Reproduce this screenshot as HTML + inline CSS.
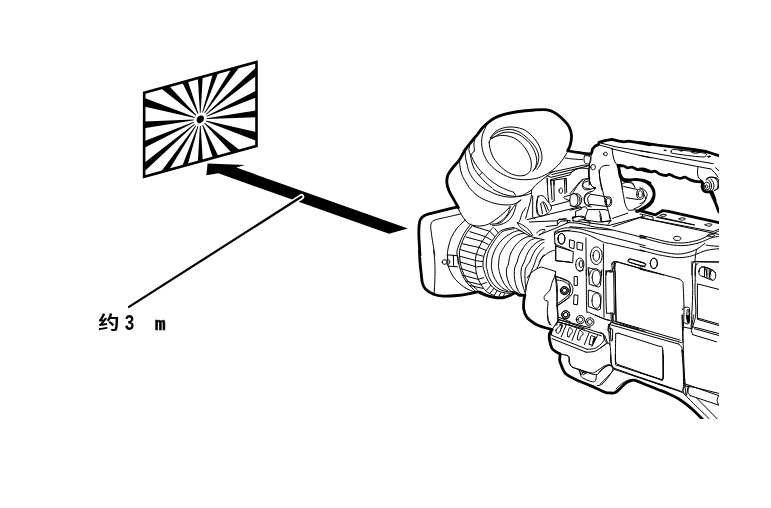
<!DOCTYPE html>
<html lang="zh-CN">
<head>
<meta charset="utf-8">
<title>约3 m</title>
<style>
html,body{margin:0;padding:0;background:#fff;}
body{width:771px;height:508px;overflow:hidden;position:relative;font-family:"Liberation Sans","Noto Sans CJK SC",sans-serif;}
svg{position:absolute;left:0;top:0;display:block;will-change:transform;}
</style>
</head>
<body>
<svg width="771" height="508" viewBox="0 0 771 508">
<defs>
<clipPath id="camclip"><rect x="400" y="90" width="319" height="329"/></clipPath>
<clipPath id="chartclip"><path d="M144.2,92.75 L256.5,61.9 L256.5,146 L144.1,176.7 Z"/></clipPath>
</defs>
<rect x="0" y="0" width="771" height="508" fill="#fff"/>
<!-- star chart -->
<g clip-path="url(#chartclip)">
<path d="M200.30,119.30 L188.68,-77.18 L211.92,-83.55 Z M200.30,119.30 L257.67,-88.01 L279.51,-86.05 Z M200.30,119.30 L319.74,-73.84 L337.54,-63.79 Z M200.30,119.30 L367.40,-36.38 L379.02,-19.44 Z M200.30,119.30 L394.91,19.86 L398.95,41.64 Z M200.30,119.30 L398.95,88.10 L394.91,112.09 Z M200.30,119.30 L379.02,160.10 L367.40,183.41 Z M200.30,119.30 L337.54,227.18 L319.74,246.99 Z M200.30,119.30 L279.51,281.25 L257.67,295.17 Z M200.30,119.30 L211.92,315.78 L188.68,322.15 Z M200.30,119.30 L142.93,326.61 L121.09,324.65 Z M200.30,119.30 L80.86,312.44 L63.06,302.39 Z M200.30,119.30 L33.20,274.98 L21.58,258.04 Z M200.30,119.30 L5.69,218.74 L1.65,196.96 Z M200.30,119.30 L1.65,150.50 L5.69,126.51 Z M200.30,119.30 L21.58,78.50 L33.20,55.19 Z M200.30,119.30 L63.06,11.42 L80.86,-8.39 Z M200.30,119.30 L121.09,-42.65 L142.93,-56.57 Z" fill="#000"/>
<ellipse cx="0" cy="0" rx="6.6" ry="6.6" fill="#fff" transform="matrix(1,-0.274,0,1,200.3,119.3)"/>
<ellipse cx="0" cy="0" rx="3.7" ry="3.7" fill="#000" transform="matrix(1,-0.274,0,1,200.3,119.3)"/>
</g>
<path d="M144.2,92.75 L256.5,61.9 L256.5,146 L144.1,176.7 Z" fill="none" stroke="#000" stroke-width="2.6" stroke-linejoin="miter"/>
<!-- arrow -->
<path d="M207.6,163.4 L245,165 L236.3,167.6 L407.9,228.6 L389,233.8 L218.3,173.3 L206.3,175.2 Z" fill="#000"/>
<!-- leader -->
<path d="M301.4,196.8 L129.0,306.9" stroke="#fff" stroke-width="5.6" stroke-linecap="round" fill="none"/>
<path d="M301.4,196.8 L129.0,306.9" stroke="#000" stroke-width="2.2" stroke-linecap="round" fill="none"/>
<!-- label -->
<text transform="translate(98.2,329.0) scale(1.15,1)" font-family="'Liberation Sans','Noto Sans CJK SC',sans-serif" font-weight="bold" font-size="18.5" fill="#000">约</text>
<text transform="translate(124.6,329.6) scale(0.74,1)" font-family="'Liberation Mono','Noto Sans CJK SC',monospace" font-weight="bold" font-size="22.4" fill="#000">3</text>
<text transform="translate(154.9,329.6) scale(0.98,1)" font-family="'Liberation Mono','Noto Sans CJK SC',monospace" font-weight="bold" font-size="18" fill="#000" stroke="#000" stroke-width="0.55">m</text>
<!-- camera -->
<g clip-path="url(#camclip)">
<g id="camera">
<path fill="#888" stroke="none" stroke-linecap="round" stroke-linejoin="round" d="M456.9,256.6 L459.4,256.8 L459.6,264.0 L457.3,263.8Z"/>
<path fill="none" stroke="#000" stroke-width="1.0" stroke-linecap="round" stroke-linejoin="round" d="M486.9,124.6 C486.1,126.6 482.9,132.3 482.1,136.4 C481.4,140.5 481.5,145.1 482.3,149.2 C483.2,153.3 484.8,157.4 487.2,161.0 C489.7,164.6 493.1,168.1 497.1,170.9 C501.0,173.7 506.3,176.3 510.9,177.8 C515.5,179.2 520.1,179.7 524.6,179.7 C529.2,179.7 534.2,179.1 538.4,177.8 C542.7,176.4 546.6,174.3 550.2,171.9 C553.8,169.4 557.3,166.2 560.1,163.0 C562.9,159.8 565.8,154.5 567.0,152.8 M490.2,137.8 C491.3,136.6 494.0,132.3 497.1,130.5 C500.2,128.7 504.6,127.2 508.9,127.0 C513.2,126.7 518.7,127.6 522.7,129.1 C526.6,130.7 529.7,133.6 532.5,136.4 C535.3,139.3 537.8,142.8 539.4,146.3 C541.0,149.7 541.9,154.0 542.0,157.1 C542.1,160.2 540.9,162.9 540.0,165.0 C539.1,167.0 537.4,168.6 536.9,169.3 M491.2,138.8 C493.1,137.8 499.1,133.6 503.0,132.7 C506.9,131.7 511.2,132.1 514.8,133.1 C518.4,134.0 521.7,136.0 524.6,138.4 C527.6,140.7 530.6,144.0 532.5,147.2 C534.5,150.5 535.9,155.0 536.5,158.1 C537.0,161.2 536.5,163.7 535.9,165.9 C535.3,168.1 533.4,170.4 532.9,171.3 M489.2,142.3 C489.4,139.4 490.9,138.5 493.1,137.4 C495.4,136.3 499.4,135.3 503.0,135.4 C506.6,135.6 511.2,136.4 514.8,138.4 C518.4,140.4 522.0,143.8 524.6,147.2 C527.3,150.7 529.5,155.4 530.6,159.1 C531.6,162.7 531.6,166.3 530.9,168.9 C530.3,171.5 528.6,173.3 526.6,174.4 C524.6,175.6 521.7,176.0 518.7,175.8 C515.8,175.5 512.2,174.6 508.9,172.8 C505.6,171.0 501.8,167.9 499.1,165.0 C496.3,162.0 493.8,158.9 492.2,155.1 C490.5,151.3 489.0,145.3 489.2,142.3Z M490.5,138.5 C491.1,137.8 492.4,135.7 494.0,134.5 C495.6,133.3 497.4,132.0 500.0,131.2 C502.6,130.3 506.2,129.3 509.4,129.4 C512.5,129.5 515.8,130.2 518.9,131.8 C522.0,133.4 525.5,136.3 528.3,138.9 C531.0,141.5 533.7,144.4 535.4,147.2 C537.1,149.9 538.3,152.8 538.7,155.4 C539.1,158.0 538.5,160.3 538.0,162.5 C537.5,164.7 536.2,167.0 535.4,168.4 C534.6,169.8 533.5,170.4 533.1,170.8 M474.8,139.1 C474.7,139.9 474.1,141.8 474.0,143.8 C473.9,145.8 474.3,149.7 474.4,150.9 M469.7,145.0 C469.6,145.8 468.8,148.4 468.9,150.1 C469.0,151.8 470.0,153.2 470.5,155.2 C471.0,157.2 471.0,159.6 471.7,161.9 C472.4,164.2 473.2,167.0 474.5,169.3 C475.8,171.6 477.3,173.3 479.2,175.6 C481.1,177.9 483.8,180.8 486.0,182.9 C488.2,185.0 491.2,187.2 492.2,188.1 M493.3,189.6 C495.0,190.4 500.2,193.2 503.7,194.3 C507.2,195.4 510.6,196.2 514.1,196.4 C517.6,196.6 521.8,195.9 524.6,195.4 C527.4,194.9 529.8,193.7 530.8,193.3 M470.9,154.8 C471.4,155.9 472.6,159.0 473.7,161.1 C474.8,163.2 476.2,165.3 477.6,167.2 C479.0,169.1 481.1,171.5 481.8,172.4 M482.3,172.4 C483.4,173.5 486.4,176.9 489.1,179.2 C491.8,181.5 495.4,184.2 498.5,186.0 C501.6,187.8 505.4,189.2 507.9,190.2 C510.4,191.2 512.6,191.9 513.6,192.2 M465.2,150.0 C465.3,151.4 465.2,156.0 465.6,158.5 C466.0,161.0 466.8,162.8 467.4,165.1 C468.0,167.4 467.9,169.6 469.3,172.4 C470.7,175.2 473.0,179.0 475.6,181.8 C478.2,184.6 483.3,188.0 484.9,189.2 M459.5,160.2 C459.6,161.5 459.7,165.1 460.2,167.8 C460.7,170.5 461.3,173.6 462.7,176.6 C464.1,179.6 467.4,184.4 468.3,186.0 M590.7,167.2 C590.7,166.5 591.0,165.5 591.4,165.1 C591.8,164.6 592.5,164.5 593.1,164.6 C593.7,164.7 594.6,165.0 595.0,165.4 C595.4,165.9 595.5,166.6 595.4,167.2 C595.4,167.8 595.1,168.8 594.7,169.2 C594.3,169.6 593.6,169.8 593.1,169.8 C592.5,169.8 591.8,169.6 591.4,169.2 C591.0,168.8 590.7,167.9 590.7,167.2Z M603.7,154.0 C603.7,153.5 604.0,152.9 604.3,152.6 C604.6,152.3 605.1,152.2 605.5,152.2 C605.9,152.2 606.5,152.4 606.8,152.7 C607.1,153.0 607.2,153.5 607.2,154.0 C607.2,154.4 607.1,155.0 606.8,155.3 C606.5,155.6 605.9,155.7 605.5,155.7 C605.1,155.7 604.6,155.6 604.3,155.3 C604.0,155.0 603.7,154.4 603.7,154.0Z M591.7,153.6 C591.4,154.8 590.6,158.1 590.1,160.7 C589.7,163.3 589.1,166.2 588.9,169.0 C588.7,171.7 588.8,175.1 588.9,177.2 C589.0,179.4 589.0,180.5 589.5,182.0 C590.0,183.4 590.9,185.1 591.9,186.1 C592.9,187.1 594.8,187.6 595.4,187.9 M609.0,165.4 C608.3,165.4 606.2,165.1 604.9,165.4 C603.6,165.7 602.2,166.3 601.3,167.2 C600.5,168.1 599.9,169.1 599.6,170.7 C599.3,172.4 599.4,175.0 599.6,177.2 C599.8,179.5 600.4,182.2 600.7,184.3 C601.1,186.5 601.7,189.1 601.9,190.0 M612.0,148.9 C612.2,150.1 612.7,153.8 613.1,156.0 C613.6,158.1 614.1,160.3 614.9,161.9 C615.7,163.5 617.4,164.8 617.9,165.4 M619.1,170.2 C619.2,171.1 619.2,174.1 619.6,176.1 C620.0,178.0 620.9,179.6 621.4,182.0 C621.9,184.3 622.4,188.7 622.6,190.0 M565.2,158.0 C566.5,158.2 570.2,158.8 573.1,159.0 C576.0,159.3 580.9,159.5 582.5,159.6 M584.5,156.0 C585.5,155.1 589.4,155.7 590.4,156.8 C591.4,157.9 590.8,161.5 590.2,162.7 C589.7,163.9 588.2,164.0 587.2,163.9 C586.3,163.8 584.9,163.6 584.5,162.3 C584.0,161.0 583.5,156.9 584.5,156.0Z M571.5,172.2 C571.9,171.8 572.3,170.9 573.9,170.2 C575.4,169.5 578.6,168.5 580.9,168.2 C583.3,168.0 586.9,168.6 588.0,168.6 M671.3,151.5 C671.5,150.8 670.0,149.3 675.4,149.6 C680.8,149.9 698.7,152.2 703.8,153.1 C708.9,154.1 706.3,154.6 705.9,155.3 C705.5,155.9 706.7,157.2 701.4,156.9 C696.1,156.7 679.3,154.5 674.3,153.6 C669.2,152.7 671.1,152.2 671.3,151.5Z M692.0,152.4 C692.0,152.1 694.3,151.6 695.5,151.6 C696.7,151.6 699.1,152.1 699.1,152.4 C699.1,152.7 696.7,153.4 695.5,153.4 C694.3,153.4 692.0,152.7 692.0,152.4Z M697.9,166.6 C697.8,167.8 697.4,171.7 697.6,173.7 C697.8,175.7 698.2,177.2 699.1,178.4 C699.9,179.6 702.0,180.4 702.6,180.8 M710.9,169.0 C711.7,169.8 714.4,172.3 715.6,173.7 C716.8,175.1 717.6,176.7 717.9,177.2 M703.9,185.9 C703.9,185.0 704.3,183.6 704.7,183.0 C705.2,182.4 706.1,182.1 706.8,182.1 C707.5,182.2 708.6,182.7 709.1,183.3 C709.6,183.9 709.8,185.0 709.8,185.9 C709.8,186.9 709.6,188.1 709.1,188.8 C708.6,189.4 707.5,189.8 706.8,189.8 C706.1,189.8 705.2,189.4 704.7,188.8 C704.3,188.1 703.9,186.9 703.9,185.9Z M705.2,186.5 C705.2,186.1 705.4,185.6 705.6,185.4 C705.8,185.1 706.2,184.9 706.5,184.9 C706.8,184.9 707.2,185.1 707.4,185.4 C707.6,185.6 707.8,186.1 707.8,186.5 C707.8,186.9 707.6,187.4 707.4,187.7 C707.2,188.0 706.8,188.2 706.5,188.2 C706.2,188.2 705.8,188.0 705.6,187.7 C705.4,187.4 705.2,186.9 705.2,186.5Z M708.6,180.0 C709.0,180.5 710.5,181.8 710.9,183.0 C711.4,184.2 711.6,185.9 711.5,187.1 C711.4,188.3 710.6,189.6 710.4,190.1 M710.7,178.9 C711.1,179.5 712.8,181.0 713.3,182.4 C713.9,183.8 714.0,185.8 713.9,187.1 C713.8,188.5 712.7,189.8 712.4,190.4 M714.8,178.0 C715.2,178.5 716.9,180.0 717.4,181.2 C718.0,182.5 718.1,184.1 718.0,185.4 C718.0,186.6 717.3,188.3 717.2,188.9 M640.0,187.7 C640.8,188.1 643.5,188.9 644.7,190.1 C645.9,191.3 647.1,193.0 647.1,194.8 C647.1,196.6 645.9,199.2 644.7,200.7 C643.5,202.2 640.8,203.2 640.0,203.7 M660.1,215.5 C660.0,215.1 661.9,214.3 663.0,214.3 C664.1,214.2 666.5,214.8 666.6,215.1 C666.7,215.5 664.7,216.4 663.6,216.4 C662.5,216.5 660.2,215.8 660.1,215.5Z M679.0,219.0 C678.9,218.6 680.8,217.9 681.9,217.8 C683.0,217.8 685.4,218.3 685.5,218.7 C685.6,219.1 683.6,220.1 682.5,220.2 C681.4,220.3 679.1,219.4 679.0,219.0Z M705.0,224.9 C704.9,224.5 707.3,223.8 708.5,223.7 C709.7,223.7 711.9,224.2 712.0,224.6 C712.1,225.0 710.3,226.2 709.1,226.2 C707.9,226.3 705.1,225.3 705.0,224.9Z M620.8,180.6 C621.2,182.8 622.5,189.9 623.1,193.6 C623.8,197.4 624.3,200.7 624.9,203.1 C625.5,205.4 626.0,206.6 626.7,207.8 C627.4,209.0 627.5,209.9 629.1,210.2 C630.6,210.5 635.0,209.7 636.1,209.6 M636.7,194.2 C636.7,192.9 637.0,191.2 637.6,190.3 C638.1,189.4 639.4,188.9 640.3,188.9 C641.2,188.9 642.4,189.4 643.0,190.3 C643.6,191.2 643.8,192.9 643.8,194.2 C643.8,195.5 643.6,197.2 643.0,198.1 C642.4,199.0 641.2,199.5 640.3,199.5 C639.4,199.5 638.1,199.0 637.6,198.1 C637.0,197.2 636.7,195.5 636.7,194.2Z M638.1,194.2 C638.1,193.3 638.4,192.2 638.7,191.6 C639.1,191.0 639.8,190.7 640.3,190.7 C640.8,190.7 641.5,191.0 641.8,191.6 C642.2,192.2 642.4,193.3 642.4,194.2 C642.4,195.1 642.2,196.2 641.8,196.8 C641.5,197.4 640.8,197.8 640.3,197.8 C639.8,197.8 639.1,197.4 638.7,196.8 C638.4,196.2 638.1,195.1 638.1,194.2Z M622.0,184.2 C622.6,183.9 623.9,182.6 625.5,182.4 C627.1,182.2 629.9,182.4 631.4,183.0 C632.9,183.6 633.9,185.5 634.4,185.9 M629.1,180.6 C629.6,181.0 631.6,181.8 632.6,183.0 C633.6,184.2 634.6,186.9 635.0,187.7 M643.8,194.2 C644.1,195.1 646.1,197.7 645.6,199.5 C645.1,201.4 642.8,203.9 640.9,205.4 C638.9,207.0 635.0,208.4 633.8,209.0 M588.3,170.0 C588.4,171.2 588.5,174.7 588.9,177.1 C589.3,179.4 589.7,182.2 590.7,184.2 C591.7,186.1 594.1,188.1 594.8,188.9 M598.9,170.0 C599.1,171.6 599.5,176.1 600.1,179.4 C600.7,182.8 601.7,186.7 602.5,190.1 C603.3,193.4 604.0,196.4 604.8,199.5 C605.7,202.7 606.9,205.8 607.8,209.0 C608.7,212.1 609.8,216.8 610.2,218.4 M605.1,201.7 C605.1,200.5 605.2,198.9 605.8,198.1 C606.3,197.3 607.5,196.7 608.4,196.7 C609.3,196.7 610.4,197.3 611.0,198.1 C611.5,198.9 611.7,200.5 611.7,201.7 C611.7,202.8 611.5,204.4 611.0,205.2 C610.4,206.0 609.3,206.6 608.4,206.6 C607.5,206.6 606.3,206.0 605.8,205.2 C605.2,204.4 605.1,202.8 605.1,201.7Z M606.3,201.7 C606.3,200.8 606.5,199.6 606.8,199.1 C607.2,198.5 607.9,198.1 608.4,198.1 C608.9,198.1 609.6,198.5 609.9,199.1 C610.3,199.6 610.5,200.8 610.5,201.7 C610.5,202.5 610.3,203.7 609.9,204.3 C609.6,204.8 608.9,205.2 608.4,205.2 C607.9,205.2 607.2,204.8 606.8,204.3 C606.5,203.7 606.3,202.5 606.3,201.7Z M590.7,194.2 C590.2,194.9 588.0,196.7 587.7,198.3 C587.4,200.0 588.7,203.3 588.9,204.3 M570.0,193.6 C571.0,192.4 573.9,188.8 575.9,186.5 C577.9,184.3 579.8,181.4 581.8,180.0 C583.8,178.7 586.7,178.8 587.7,178.5 M587.7,181.2 C587.0,181.5 584.5,182.1 583.6,183.0 C582.7,183.9 582.2,185.5 582.4,186.5 C582.6,187.6 583.6,189.0 584.8,189.5 C585.9,190.0 587.7,189.8 589.5,189.5 C591.3,189.2 594.4,188.0 595.4,187.7 M595.4,187.7 C595.1,188.2 594.8,189.9 593.6,190.7 C592.4,191.5 589.8,191.7 588.3,192.4 C586.8,193.2 585.5,194.0 584.8,195.4 C584.1,196.8 583.9,199.0 584.2,200.7 C584.5,202.4 585.4,204.4 586.5,205.4 C587.7,206.5 590.5,206.6 591.3,206.8 M570.0,194.8 C570.8,194.6 573.2,193.3 574.7,193.6 C576.2,193.9 578.0,195.3 578.9,196.6 C579.7,197.9 580.1,199.8 580.0,201.3 C579.9,202.8 579.4,204.5 578.3,205.4 C577.2,206.3 574.9,206.6 573.5,206.6 C572.2,206.6 570.6,205.6 570.0,205.4 M587.7,209.6 C587.4,210.5 586.5,213.2 585.9,214.9 C585.4,216.6 584.5,218.8 584.2,219.6 M599.5,211.3 C599.8,212.3 601.0,215.7 601.3,217.2 C601.6,218.8 601.3,220.2 601.3,220.8 M552.6,171.8 C550.9,173.1 545.4,177.2 542.5,179.4 C539.7,181.7 537.2,183.6 535.4,185.4 C533.7,187.1 532.5,189.3 531.9,190.1 M538.4,196.6 C539.5,195.4 541.6,195.3 543.1,196.0 C544.6,196.7 545.9,198.9 547.2,200.7 C548.6,202.5 551.0,204.8 551.4,206.6 C551.8,208.4 550.9,209.9 549.6,211.3 C548.3,212.8 545.5,214.8 543.7,215.5 C541.9,216.2 540.2,216.2 539.0,215.5 C537.8,214.8 537.0,213.4 536.6,211.3 C536.2,209.3 536.3,205.5 536.6,203.1 C536.9,200.6 537.3,197.8 538.4,196.6Z M540.7,203.7 C541.1,203.4 542.3,201.9 543.1,201.9 C543.9,201.9 544.6,202.3 545.5,203.7 C546.4,205.0 547.9,209.1 548.4,210.2 M547.2,178.3 C547.3,180.8 547.5,189.6 547.8,193.6 C548.1,197.7 548.8,201.0 549.0,202.5 M559.1,190.7 C559.1,190.0 559.2,189.2 559.5,188.8 C559.8,188.3 560.4,188.1 560.8,188.1 C561.3,188.1 561.8,188.3 562.1,188.8 C562.4,189.2 562.6,190.0 562.6,190.7 C562.6,191.3 562.4,192.1 562.1,192.6 C561.8,193.0 561.3,193.3 560.8,193.3 C560.4,193.3 559.8,193.0 559.5,192.6 C559.2,192.1 559.1,191.3 559.1,190.7Z M569.7,200.1 C569.7,198.5 570.2,196.5 570.9,195.4 C571.6,194.3 572.8,193.6 573.8,193.6 C574.8,193.6 576.1,194.3 576.8,195.4 C577.5,196.5 577.9,198.5 577.9,200.1 C577.9,201.7 577.5,203.8 576.8,204.8 C576.1,205.9 574.8,206.4 573.8,206.4 C572.8,206.4 571.6,205.9 570.9,204.8 C570.2,203.8 569.7,201.7 569.7,200.1Z M576.8,193.6 C577.4,193.9 579.5,194.3 580.3,195.4 C581.1,196.5 581.5,198.6 581.5,200.1 C581.5,201.6 581.0,203.3 580.3,204.3 C579.6,205.2 577.9,205.7 577.4,206.0 M582.7,180.0 C581.7,181.1 578.3,184.5 576.8,186.5 C575.2,188.6 573.8,191.5 573.2,192.4 M590.0,178.3 C589.2,178.6 586.3,179.1 585.0,180.0 C583.8,181.0 582.8,182.9 582.7,184.2 C582.6,185.5 583.2,186.9 584.4,187.7 C585.7,188.5 589.1,188.7 590.0,188.9 M590.0,193.0 C589.4,193.3 587.1,193.7 586.2,194.8 C585.3,195.9 584.5,198.0 584.4,199.5 C584.3,201.1 584.7,203.3 585.6,204.3 C586.6,205.2 589.3,205.2 590.0,205.4 M457.7,207.7 C458.6,209.3 461.1,214.5 463.0,217.2 C464.9,219.8 466.5,222.2 468.9,223.7 C471.3,225.1 474.2,225.8 477.2,226.0 C480.1,226.2 483.7,225.8 486.6,224.8 C489.6,223.9 492.1,222.0 494.9,220.1 C497.6,218.2 500.6,215.9 503.1,213.6 C505.7,211.4 509.1,207.7 510.2,206.5 M468.3,186.0 C468.8,186.7 469.4,188.1 471.3,190.0 C473.1,191.9 476.2,195.0 479.5,197.1 C482.9,199.2 487.4,201.1 491.3,202.4 C495.3,203.7 499.4,204.5 503.1,204.8 C506.9,205.1 510.8,205.0 513.8,204.2 C516.7,203.4 519.7,200.7 520.9,200.0 M484.8,189.1 C485.1,189.2 484.5,189.1 486.6,190.0 C488.7,190.9 493.5,193.5 497.2,194.7 C501.0,195.9 505.1,196.9 509.1,197.1 C513.0,197.3 517.7,196.7 520.9,195.9 C524.0,195.1 526.2,193.3 527.9,192.4 C529.7,191.4 530.9,190.4 531.5,190.0 M531.5,190.0 C531.5,190.8 531.7,192.8 531.5,194.7 C531.3,196.7 530.9,199.3 530.3,201.8 C529.7,204.4 528.7,207.3 527.9,210.1 C527.2,212.8 526.0,217.0 525.6,218.3 M520.9,200.0 C519.7,201.1 515.7,204.3 513.8,206.5 C511.8,208.8 510.6,211.5 509.1,213.6 C507.5,215.8 505.9,218.0 504.3,219.5 C502.8,221.1 502.0,222.3 499.6,223.1 C497.2,223.9 491.7,224.1 490.2,224.3 M516.1,204.8 C515.8,205.8 515.2,209.2 514.4,211.3 C513.6,213.3 512.7,215.4 511.4,217.2 C510.1,218.9 508.7,220.6 506.7,221.9 C504.7,223.2 502.0,224.3 499.6,224.8 C497.2,225.4 493.7,225.3 492.5,225.4 M510.2,206.5 C509.8,207.7 509.1,211.5 507.9,213.6 C506.7,215.8 504.9,218.0 503.1,219.5 C501.4,221.1 498.2,222.5 497.2,223.1 M525.6,207.7 C525.0,208.7 523.0,211.5 522.0,213.6 C521.1,215.8 520.4,219.1 519.7,220.7 C519.0,222.3 518.2,222.7 517.9,223.1 M517.3,222.5 C518.3,223.0 521.3,224.2 523.2,225.4 C525.2,226.7 527.6,228.5 529.1,230.2 C530.7,231.8 532.1,234.6 532.7,235.5 M517.3,222.5 C517.7,223.2 518.3,225.1 519.7,226.6 C521.1,228.1 523.6,229.9 525.6,231.3 C527.6,232.8 530.5,234.8 531.5,235.5 M538.0,195.9 C537.8,197.5 536.8,202.4 536.8,205.4 C536.8,208.3 537.5,211.9 538.0,213.6 C538.5,215.3 539.7,215.1 540.0,215.4 M460.8,213.9 C458.2,214.5 449.7,216.5 445.4,217.4 C441.2,218.4 437.7,219.0 435.4,219.8 C433.1,220.6 432.6,221.0 431.8,222.2 C431.1,223.3 430.7,224.5 430.7,226.9 C430.7,229.3 431.2,231.7 431.8,236.3 C432.5,241.0 434.3,251.9 434.8,255.0 M465.5,219.8 C464.1,221.2 459.6,225.1 457.2,228.1 C454.9,231.0 452.8,234.4 451.3,237.5 C449.9,240.7 449.1,244.1 448.4,247.0 C447.7,249.9 447.4,253.7 447.2,255.0 M433.6,250.0 C433.8,252.0 434.6,257.9 434.8,261.8 C435.0,265.7 435.1,269.7 435.0,273.6 C435.0,277.6 434.7,282.2 434.6,285.4 C434.4,288.7 434.3,291.8 434.2,293.1 M448.3,266.1 C448.7,267.1 449.5,270.0 450.7,272.3 C451.9,274.6 453.6,277.5 455.7,279.8 C457.8,282.1 460.6,284.6 463.1,286.4 C465.6,288.2 468.3,289.5 470.6,290.5 C472.9,291.5 475.9,292.2 477.0,292.5 M442.2,262.0 C442.2,261.4 442.5,260.7 442.9,260.3 C443.3,259.9 444.0,259.7 444.5,259.7 C445.0,259.7 445.7,259.9 446.1,260.3 C446.5,260.7 446.8,261.4 446.8,262.0 C446.8,262.6 446.5,263.3 446.1,263.7 C445.7,264.1 445.0,264.3 444.5,264.3 C444.0,264.3 443.3,264.1 442.9,263.7 C442.5,263.3 442.2,262.6 442.2,262.0Z M446.8,260.0 C447.1,260.0 448.1,259.5 448.6,259.8 C449.1,260.1 450.0,261.3 450.0,262.0 C450.0,262.7 449.1,263.9 448.6,264.2 C448.1,264.5 447.1,264.0 446.8,264.0 M470.7,224.1 C469.6,225.7 465.8,230.4 463.8,233.8 C461.9,237.2 460.1,241.8 459.0,244.8 C457.9,247.8 457.1,249.8 456.9,252.0 C456.7,254.2 457.4,255.9 457.8,258.3 C458.2,260.7 458.6,263.8 459.4,266.5 C460.1,269.2 461.0,272.0 462.3,274.8 C463.6,277.6 465.2,280.5 467.3,283.1 C469.4,285.7 473.5,289.3 474.7,290.5 M472.4,225.5 C471.2,227.1 467.4,231.5 465.5,234.8 C463.6,238.1 462.0,242.6 461.0,245.5 C460.0,248.4 459.6,249.9 459.4,252.0 C459.2,254.1 459.5,255.9 459.8,258.3 C460.1,260.7 460.4,263.8 461.1,266.5 C461.8,269.2 462.7,272.2 464.0,274.8 C465.3,277.4 466.7,279.7 468.9,282.2 C471.1,284.7 475.8,288.4 477.2,289.7 M493.0,227.6 C492.3,228.4 490.2,230.3 488.6,232.4 C487.0,234.5 484.7,237.5 483.1,240.0 C481.5,242.5 479.9,245.5 478.9,247.5 C477.9,249.5 477.8,250.2 477.2,252.0 C476.6,253.8 475.8,255.9 475.5,258.3 C475.2,260.7 475.3,263.8 475.5,266.5 C475.7,269.2 476.1,272.2 476.8,274.8 C477.5,277.4 478.4,279.7 479.7,282.2 C481.0,284.7 483.1,287.9 484.6,289.7 C486.2,291.5 487.4,292.2 489.0,293.2 C490.6,294.2 493.6,295.2 494.5,295.6 M513.1,227.5 C511.5,227.8 506.2,228.6 503.7,229.5 C501.2,230.4 500.0,231.3 498.2,233.1 C496.4,234.8 494.4,237.6 492.7,240.0 C491.0,242.4 489.1,245.5 487.9,247.5 C486.7,249.5 486.2,250.2 485.5,252.0 C484.8,253.8 483.8,255.9 483.4,258.3 C483.0,260.7 482.8,264.2 483.0,266.5 C483.2,268.8 483.9,270.2 484.5,272.0 C485.1,273.8 485.2,275.1 486.3,277.3 C487.4,279.5 488.9,283.1 490.9,285.4 C492.9,287.7 495.4,289.6 498.1,290.9 C500.8,292.2 504.6,292.9 507.2,293.2 C509.8,293.5 512.5,292.8 513.6,292.7 M513.9,228.7 C512.3,229.0 506.8,229.8 504.5,230.7 C502.2,231.5 501.7,232.0 500.0,233.8 C498.3,235.6 495.8,238.8 494.1,241.3 C492.4,243.8 490.6,247.1 489.6,248.9 C488.6,250.7 488.7,250.4 488.2,252.0 C487.7,253.6 487.0,255.9 486.7,258.3 C486.4,260.7 486.2,264.6 486.3,266.5 C486.4,268.4 486.7,268.2 487.2,270.0 C487.7,271.8 488.0,274.9 489.1,277.3 C490.2,279.7 491.8,282.5 493.6,284.5 C495.4,286.5 497.6,288.3 500.0,289.5 C502.4,290.7 505.7,291.5 508.1,291.8 C510.5,292.1 513.4,291.4 514.5,291.3 M557.9,238.9 C557.9,237.6 558.3,235.9 558.9,235.0 C559.5,234.2 560.6,233.6 561.5,233.6 C562.4,233.6 563.5,234.2 564.1,235.0 C564.7,235.9 565.0,237.6 565.0,238.9 C565.0,240.2 564.7,241.9 564.1,242.8 C563.5,243.7 562.4,244.3 561.5,244.3 C560.6,244.3 559.5,243.7 558.9,242.8 C558.3,241.9 557.9,240.2 557.9,238.9Z M536.7,233.0 C537.3,232.5 538.9,230.7 540.2,230.1 C541.6,229.5 544.4,229.2 545.0,229.5 C545.5,229.8 544.8,230.9 543.8,231.8 C542.8,232.8 539.8,234.8 539.1,235.4 M539.1,262.0 C539.8,261.0 541.8,257.8 543.8,256.1 C545.7,254.3 548.9,252.3 550.9,251.3 C552.8,250.4 554.8,250.4 555.6,250.2 M521.8,231.5 C521.1,231.4 519.7,230.4 517.9,230.7 C516.1,231.0 513.3,232.0 510.8,233.4 C508.3,234.8 505.3,236.8 502.9,239.0 C500.5,241.2 498.3,244.1 496.6,246.8 C494.9,249.6 493.6,252.6 492.7,255.5 C491.8,258.4 491.7,261.9 491.5,264.0 C491.3,266.1 491.2,265.9 491.5,267.9 C491.8,269.8 492.4,273.2 493.4,275.7 C494.4,278.2 495.8,280.7 497.4,282.8 C499.0,284.9 501.2,287.0 502.9,288.3 C504.6,289.6 506.8,290.3 507.6,290.7 M524.9,233.8 C524.6,233.7 524.7,233.2 523.4,233.4 C522.1,233.6 519.3,233.9 517.1,235.0 C514.9,236.1 512.2,237.6 510.0,239.7 C507.8,241.8 505.4,245.0 503.7,247.6 C502.0,250.2 500.5,252.8 499.7,255.5 C498.9,258.2 498.8,261.9 498.6,264.0 C498.4,266.1 498.3,265.9 498.6,267.9 C498.9,269.8 499.6,273.1 500.5,275.7 C501.4,278.3 502.7,281.2 504.1,283.6 C505.6,286.0 507.7,288.4 509.2,289.9 C510.7,291.3 512.5,291.9 513.1,292.3 M530.5,236.6 C529.7,236.7 527.6,236.6 525.7,237.4 C523.9,238.2 521.4,239.6 519.4,241.3 C517.4,243.0 515.5,245.2 513.9,247.6 C512.3,250.0 510.9,252.8 510.0,255.5 C509.1,258.2 508.9,261.9 508.4,264.0 C507.9,266.1 507.1,266.6 506.8,268.0 C506.5,269.4 506.3,270.7 506.4,272.6 C506.5,274.6 506.9,277.3 507.6,279.7 C508.3,282.1 509.5,284.7 510.8,286.8 C512.1,288.9 514.7,291.4 515.5,292.3 M537.5,238.6 C537.0,238.6 535.8,238.1 534.4,238.6 C533.0,239.1 530.7,239.8 528.9,241.3 C527.1,242.8 525.0,245.2 523.4,247.6 C521.8,250.0 520.0,253.1 519.0,255.5 C518.0,257.9 517.8,259.9 517.1,262.0 C516.4,264.1 515.2,265.6 514.7,267.9 C514.2,270.2 514.2,273.1 514.3,275.7 C514.4,278.3 514.8,281.0 515.5,283.6 C516.2,286.2 517.7,289.8 518.6,291.5 C519.5,293.2 520.6,293.5 521.0,293.9 M544.0,239.7 C543.6,239.8 542.8,239.6 541.5,240.1 C540.2,240.6 537.8,241.5 536.0,242.9 C534.2,244.3 532.1,246.3 530.5,248.4 C528.9,250.5 527.5,253.2 526.5,255.5 C525.5,257.8 525.1,259.9 524.2,262.0 C523.4,264.1 521.9,265.6 521.4,267.9 C520.9,270.2 520.9,273.1 521.0,275.7 C521.1,278.3 521.6,280.8 522.2,283.6 C522.9,286.4 524.5,290.9 524.9,292.3 M544.0,242.5 C543.6,242.7 542.8,242.6 541.5,243.7 C540.2,244.8 537.6,247.1 536.0,249.2 C534.4,251.3 533.0,254.2 532.0,256.3 C531.0,258.4 530.8,260.1 529.7,262.0 C528.7,263.9 526.5,265.6 525.7,267.9 C524.9,270.2 525.0,273.1 524.9,275.7 C524.8,278.3 525.1,281.2 525.3,283.6 C525.5,286.0 526.0,288.8 526.1,289.9 M544.0,247.6 C543.5,248.1 541.9,249.2 540.7,250.8 C539.5,252.4 537.8,254.9 536.8,257.1 C535.8,259.3 535.3,261.6 534.4,264.0 C533.5,266.4 532.1,269.4 531.2,271.8 C530.3,274.2 529.7,275.7 528.9,278.1 C528.1,280.5 527.1,283.4 526.5,286.0 C525.9,288.6 525.5,292.6 525.3,293.9 M544.0,254.7 C543.6,255.2 542.3,256.3 541.5,257.9 C540.7,259.4 539.9,262.3 539.1,264.0 C538.4,265.7 537.4,267.3 537.0,268.0 M513.1,227.5 C514.0,227.8 516.6,228.5 518.6,229.5 C520.6,230.5 522.8,232.2 524.9,233.4 C527.0,234.6 528.8,235.7 531.2,236.6 C533.6,237.5 537.0,238.1 539.1,238.6 C541.2,239.1 543.2,239.5 544.0,239.7 M527.2,278.0 C528.0,277.0 529.8,273.9 532.0,272.1 C534.1,270.3 537.9,268.0 540.2,267.4 C542.6,266.8 543.6,267.9 546.1,268.5 C548.7,269.2 554.0,271.0 555.6,271.5 M555.6,271.5 C555.5,272.2 555.6,273.8 555.0,275.6 C554.4,277.5 552.9,280.3 552.0,282.7 C551.2,285.2 551.0,288.1 549.7,290.4 C548.4,292.7 545.2,294.6 544.4,296.3 C543.6,298.0 544.4,299.5 545.0,300.4 C545.5,301.3 547.5,299.6 547.9,301.6 C548.3,303.6 547.2,309.1 547.3,312.2 C547.4,315.4 547.9,318.4 548.5,320.5 C549.1,322.6 550.5,324.2 550.9,325.0 M555.6,275.6 C555.9,277.8 557.2,283.7 557.4,288.6 C557.6,293.5 556.7,300.4 556.8,305.2 C556.9,309.9 557.9,313.7 557.9,317.0 C557.9,320.3 557.0,323.7 556.8,325.0 M568.6,281.5 C568.8,282.7 569.9,286.3 570.0,288.6 C570.1,291.0 569.5,294.1 569.2,295.7 C568.8,297.3 568.2,297.7 568.0,298.1 M560.9,290.4 C560.9,289.6 561.4,288.5 562.0,287.9 C562.6,287.3 563.6,286.8 564.4,286.8 C565.3,286.8 566.3,287.3 566.9,287.9 C567.5,288.5 568.0,289.6 568.0,290.4 C568.0,291.2 567.5,292.3 566.9,292.9 C566.3,293.5 565.3,293.9 564.4,293.9 C563.6,293.9 562.6,293.5 562.0,292.9 C561.4,292.3 560.9,291.2 560.9,290.4Z M562.4,290.4 C562.4,289.9 562.7,289.3 563.0,289.0 C563.4,288.6 564.0,288.4 564.4,288.4 C564.9,288.4 565.5,288.6 565.9,289.0 C566.2,289.3 566.5,289.9 566.5,290.4 C566.5,290.9 566.2,291.5 565.9,291.8 C565.5,292.1 564.9,292.4 564.4,292.4 C564.0,292.4 563.4,292.1 563.0,291.8 C562.7,291.5 562.4,290.9 562.4,290.4Z M561.8,314.6 C561.8,313.7 562.3,312.5 562.9,311.9 C563.5,311.3 564.7,310.8 565.6,310.8 C566.5,310.8 567.7,311.3 568.3,311.9 C569.0,312.5 569.4,313.7 569.4,314.6 C569.4,315.5 569.0,316.7 568.3,317.3 C567.7,318.0 566.5,318.4 565.6,318.4 C564.7,318.4 563.5,318.0 562.9,317.3 C562.3,316.7 561.8,315.5 561.8,314.6Z M563.5,314.6 C563.5,314.1 563.7,313.4 564.1,313.1 C564.4,312.7 565.1,312.5 565.6,312.5 C566.1,312.5 566.8,312.7 567.2,313.1 C567.5,313.4 567.8,314.1 567.8,314.6 C567.8,315.1 567.5,315.8 567.2,316.1 C566.8,316.5 566.1,316.7 565.6,316.7 C565.1,316.7 564.4,316.5 564.1,316.1 C563.7,315.8 563.5,315.1 563.5,314.6Z M568.0,222.7 C569.8,222.8 574.3,222.6 578.6,223.3 C583.0,224.0 589.1,225.9 594.0,226.8 C598.9,227.8 599.6,227.1 608.1,228.9 C616.7,230.8 638.9,236.5 645.0,238.0 M555.0,231.5 C556.6,230.9 560.5,228.5 564.4,228.0 C568.4,227.5 573.7,227.8 578.6,228.6 C583.5,229.4 589.1,231.4 594.0,232.7 C598.9,234.0 599.6,234.1 608.1,236.3 C616.7,238.4 638.9,244.1 645.0,245.7 M555.0,234.5 C556.4,233.9 559.3,231.3 563.3,230.9 C567.2,230.6 574.1,231.3 578.6,232.1 C583.1,232.9 586.5,234.1 590.4,235.7 C594.4,237.2 598.3,240.1 602.2,241.6 C606.2,243.1 606.9,242.9 614.1,244.5 C621.2,246.2 639.8,250.4 645.0,251.6 M558.2,238.6 C558.2,237.4 558.6,235.7 559.1,234.8 C559.7,234.0 560.7,233.3 561.5,233.3 C562.3,233.3 563.3,234.0 563.9,234.8 C564.4,235.7 564.8,237.4 564.8,238.6 C564.8,239.9 564.4,241.5 563.9,242.4 C563.3,243.3 562.3,243.9 561.5,243.9 C560.7,243.9 559.7,243.3 559.1,242.4 C558.6,241.5 558.2,239.9 558.2,238.6Z M590.4,255.7 C590.4,253.7 591.2,251.0 592.2,249.5 C593.2,248.0 595.0,246.9 596.3,246.9 C597.7,246.9 599.5,248.0 600.5,249.5 C601.5,251.0 602.2,253.7 602.2,255.7 C602.2,257.8 601.5,260.5 600.5,262.0 C599.5,263.5 597.7,264.6 596.3,264.6 C595.0,264.6 593.2,263.5 592.2,262.0 C591.2,260.5 590.4,257.8 590.4,255.7Z M593.0,255.7 C593.0,254.5 593.4,252.9 594.0,252.0 C594.5,251.1 595.5,250.4 596.3,250.4 C597.1,250.4 598.1,251.1 598.7,252.0 C599.3,252.9 599.6,254.5 599.6,255.7 C599.6,257.0 599.3,258.6 598.7,259.5 C598.1,260.4 597.1,261.1 596.3,261.1 C595.5,261.1 594.5,260.4 594.0,259.5 C593.4,258.6 593.0,257.0 593.0,255.7Z M575.7,264.6 C575.7,263.1 576.2,261.1 576.8,260.0 C577.5,258.9 578.8,258.1 579.8,258.1 C580.8,258.1 582.1,258.9 582.8,260.0 C583.4,261.1 583.9,263.1 583.9,264.6 C583.9,266.1 583.4,268.1 582.8,269.2 C582.1,270.3 580.8,271.1 579.8,271.1 C578.8,271.1 577.5,270.3 576.8,269.2 C576.2,268.1 575.7,266.1 575.7,264.6Z M579.2,264.0 C579.2,263.2 579.4,262.1 579.7,261.5 C580.0,260.9 580.6,260.5 581.0,260.5 C581.4,260.5 582.0,260.9 582.3,261.5 C582.6,262.1 582.8,263.2 582.8,264.0 C582.8,264.8 582.6,265.9 582.3,266.5 C582.0,267.1 581.4,267.6 581.0,267.6 C580.6,267.6 580.0,267.1 579.7,266.5 C579.4,265.9 579.2,264.8 579.2,264.0Z M589.3,275.0 C589.6,274.2 590.5,271.6 591.6,270.5 C592.7,269.5 594.4,268.6 595.7,268.7 C597.1,268.8 598.9,270.1 599.9,271.1 C600.9,272.1 601.4,274.3 601.7,275.0 M614.1,262.2 C613.9,263.4 614.1,267.9 612.9,269.3 C611.7,270.8 608.0,270.2 607.0,271.1 C605.9,272.0 606.5,274.3 606.4,275.0 M616.4,261.7 C616.2,262.1 615.6,263.1 615.2,264.6 C614.8,266.1 614.2,269.5 614.1,270.5 M645.0,263.4 C642.6,262.7 633.4,259.8 630.6,259.3 C627.8,258.8 628.4,260.0 628.2,260.5 C628.0,261.0 626.6,261.2 629.4,262.2 C632.2,263.3 642.4,266.2 645.0,267.0 M673.4,238.4 C673.4,237.8 674.2,237.1 674.8,236.7 C675.5,236.4 676.4,236.2 677.2,236.3 C678.0,236.3 679.2,236.6 679.8,237.0 C680.4,237.3 681.0,237.9 681.0,238.4 C681.0,238.9 680.4,239.7 679.8,240.0 C679.2,240.4 678.0,240.5 677.2,240.5 C676.4,240.5 675.5,240.4 674.8,240.0 C674.2,239.7 673.4,238.9 673.4,238.4Z M707.3,235.3 C707.4,235.0 708.4,234.5 709.1,234.3 C709.8,234.0 710.7,233.9 711.5,233.9 C712.2,233.9 713.3,234.3 713.8,234.5 C714.3,234.7 714.7,235.0 714.6,235.3 C714.5,235.6 713.9,236.3 713.2,236.5 C712.6,236.7 711.7,236.8 710.9,236.7 C710.1,236.7 709.1,236.5 708.5,236.3 C707.9,236.0 707.2,235.6 707.3,235.3Z M640.0,235.7 C640.4,235.8 641.4,236.0 642.4,236.3 C643.3,236.5 645.9,236.9 645.9,237.2 C645.9,237.5 643.3,237.9 642.4,238.0 C641.4,238.2 640.4,238.0 640.0,238.0 M640.0,235.1 C642.0,235.6 646.9,236.8 651.8,238.0 C656.7,239.2 664.0,241.4 669.5,242.2 C675.0,243.0 680.0,243.1 684.9,242.8 C689.8,242.4 695.1,241.0 699.1,239.8 C703.0,238.6 705.2,237.1 708.5,235.7 C711.8,234.2 717.2,231.7 718.9,230.9 M640.0,236.8 C642.0,237.4 646.9,239.1 651.8,240.4 C656.7,241.7 664.0,243.7 669.5,244.5 C675.0,245.4 680.0,245.8 684.9,245.5 C689.8,245.2 694.7,244.0 699.1,242.8 C703.4,241.5 707.6,239.1 710.9,238.0 C714.2,236.9 717.6,236.6 718.9,236.3 M640.0,246.3 C643.0,247.1 651.8,249.7 657.7,251.0 C663.6,252.3 670.5,253.7 675.4,254.0 C680.4,254.3 683.7,253.6 687.2,252.8 C690.8,252.0 693.7,250.8 696.7,249.3 C699.6,247.7 703.6,244.3 705.0,243.3 M640.0,249.8 C643.0,250.6 651.8,253.3 657.7,254.6 C663.6,255.8 670.5,257.1 675.4,257.5 C680.4,257.9 683.9,257.4 687.2,256.9 C690.6,256.4 692.4,255.6 695.5,254.6 C698.7,253.5 702.2,251.4 706.1,250.4 C710.0,249.4 716.8,249.0 718.9,248.7 M696.7,249.3 C696.5,250.2 695.8,253.0 695.5,255.2 C695.2,257.3 695.0,261.1 694.9,262.2 M706.1,245.1 C707.1,245.3 709.9,245.7 712.0,245.9 C714.2,246.1 717.8,246.2 718.9,246.3 M650.4,263.4 C650.4,262.2 650.9,260.5 651.5,259.6 C652.0,258.8 653.1,258.1 653.9,258.1 C654.8,258.1 655.8,258.8 656.4,259.6 C657.0,260.5 657.5,262.2 657.5,263.4 C657.5,264.7 657.0,266.3 656.4,267.2 C655.8,268.1 654.8,268.7 653.9,268.7 C653.1,268.7 652.0,268.1 651.5,267.2 C650.9,266.3 650.4,264.7 650.4,263.4Z M640.0,262.2 C640.6,262.3 642.7,262.4 643.5,262.8 C644.4,263.2 645.3,264.0 645.3,264.6 C645.3,265.2 644.4,266.0 643.5,266.4 C642.7,266.8 640.6,266.9 640.0,267.0 M692.0,275.0 C692.1,273.3 692.1,266.8 692.6,264.6 C693.0,262.4 693.4,262.1 694.9,261.7 C696.4,261.2 697.4,261.9 701.4,262.0 C705.4,262.1 716.0,262.2 718.9,262.2 M694.9,275.0 C695.0,273.5 695.0,267.7 695.5,265.8 C696.0,263.9 697.5,264.0 697.9,263.7 M699.1,271.1 C699.2,270.6 699.4,268.6 700.2,267.9 C701.0,267.2 702.0,266.7 703.8,267.0 C705.5,267.2 708.9,268.3 710.9,269.3 C712.8,270.3 714.8,272.3 715.6,272.9 M704.4,267.6 C704.7,268.0 705.7,269.3 706.1,270.5 C706.5,271.7 706.6,274.2 706.7,275.0 M710.9,269.9 C710.8,270.4 710.3,272.0 710.3,272.9 C710.3,273.7 710.8,274.6 710.9,275.0 M586.3,270.0 C586.4,276.5 586.2,301.9 586.7,309.0 C587.1,316.1 586.3,310.8 589.3,312.5 C592.2,314.2 601.1,317.6 604.6,319.0 C608.1,320.4 609.5,320.5 610.5,320.8 M612.9,271.8 C611.9,271.8 608.1,271.5 607.0,271.8 C605.8,272.1 605.9,267.1 605.8,273.5 C605.7,279.9 606.0,303.6 606.4,310.2 C606.8,316.8 607.0,312.4 608.1,313.1 C609.3,313.8 612.6,314.1 613.5,314.3 M592.2,277.7 C592.2,275.9 592.7,273.6 593.4,272.4 C594.1,271.1 595.4,270.0 596.3,270.0 C597.3,270.0 598.6,271.1 599.3,272.4 C600.0,273.6 600.5,275.9 600.5,277.7 C600.5,279.4 600.0,281.7 599.3,283.0 C598.6,284.3 597.3,285.4 596.3,285.4 C595.4,285.4 594.1,284.3 593.4,283.0 C592.7,281.7 592.2,279.4 592.2,277.7Z M592.0,300.7 C592.0,298.9 592.4,296.7 593.1,295.4 C593.9,294.1 595.3,293.0 596.3,293.0 C597.4,293.0 598.8,294.1 599.5,295.4 C600.3,296.7 600.7,298.9 600.7,300.7 C600.7,302.5 600.3,304.7 599.5,306.0 C598.8,307.3 597.4,308.4 596.3,308.4 C595.3,308.4 593.9,307.3 593.1,306.0 C592.4,304.7 592.0,302.5 592.0,300.7Z M555.0,276.5 C556.2,276.8 559.7,277.4 562.1,278.3 C564.4,279.2 567.4,280.2 569.2,281.8 C570.9,283.4 572.2,285.7 572.7,287.7 C573.2,289.7 572.9,291.8 572.1,293.6 C571.3,295.4 570.1,296.6 568.0,298.3 C565.9,300.1 561.6,303.1 559.7,304.3 C557.9,305.4 557.3,305.2 556.8,305.4 M556.8,280.0 C557.9,280.2 561.3,280.4 563.3,281.2 C565.2,282.0 567.4,283.3 568.6,284.8 C569.8,286.2 570.5,288.3 570.4,290.1 C570.3,291.8 570.0,293.2 568.0,295.4 C566.0,297.6 560.1,301.8 558.5,303.1 M560.3,290.7 C560.3,289.7 560.8,288.4 561.5,287.7 C562.2,287.0 563.5,286.5 564.4,286.5 C565.4,286.5 566.7,287.0 567.4,287.7 C568.1,288.4 568.6,289.7 568.6,290.7 C568.6,291.7 568.1,292.9 567.4,293.6 C566.7,294.3 565.4,294.8 564.4,294.8 C563.5,294.8 562.2,294.3 561.5,293.6 C560.8,292.9 560.3,291.7 560.3,290.7Z M561.9,290.7 C561.9,290.0 562.1,289.2 562.6,288.8 C563.0,288.3 563.8,288.1 564.4,288.1 C565.1,288.1 565.9,288.3 566.3,288.8 C566.8,289.2 567.0,290.0 567.0,290.7 C567.0,291.3 566.8,292.1 566.3,292.6 C565.9,293.0 565.1,293.3 564.4,293.3 C563.8,293.3 563.0,293.0 562.6,292.6 C562.1,292.1 561.9,291.3 561.9,290.7Z M555.0,274.7 C555.2,276.3 555.8,279.1 556.2,284.2 C556.6,289.3 557.1,299.5 557.4,305.4 C557.7,311.3 558.3,316.3 558.0,319.6 C557.6,323.0 555.5,324.5 555.0,325.5 M561.5,314.9 C561.5,313.9 562.0,312.6 562.7,311.9 C563.4,311.2 564.6,310.7 565.6,310.7 C566.6,310.7 567.9,311.2 568.6,311.9 C569.3,312.6 569.8,313.9 569.8,314.9 C569.8,315.9 569.3,317.1 568.6,317.8 C567.9,318.5 566.6,319.0 565.6,319.0 C564.6,319.0 563.4,318.5 562.7,317.8 C562.0,317.1 561.5,315.9 561.5,314.9Z M563.3,314.9 C563.3,314.3 563.6,313.6 564.0,313.2 C564.4,312.8 565.1,312.5 565.6,312.5 C566.2,312.5 566.9,312.8 567.3,313.2 C567.7,313.6 568.0,314.3 568.0,314.9 C568.0,315.4 567.7,316.1 567.3,316.5 C566.9,316.9 566.2,317.2 565.6,317.2 C565.1,317.2 564.4,316.9 564.0,316.5 C563.6,316.1 563.3,315.4 563.3,314.9Z M576.3,319.6 C576.3,318.6 576.8,317.3 577.4,316.7 C578.1,316.0 579.4,315.5 580.4,315.5 C581.4,315.5 582.7,316.0 583.3,316.7 C584.0,317.3 584.5,318.6 584.5,319.6 C584.5,320.6 584.0,321.9 583.3,322.6 C582.7,323.2 581.4,323.7 580.4,323.7 C579.4,323.7 578.1,323.2 577.4,322.6 C576.8,321.9 576.3,320.6 576.3,319.6Z M578.0,319.6 C578.0,319.1 578.3,318.3 578.7,318.0 C579.1,317.6 579.8,317.2 580.4,317.2 C580.9,317.2 581.7,317.6 582.0,318.0 C582.4,318.3 582.8,319.1 582.8,319.6 C582.8,320.2 582.4,320.9 582.0,321.3 C581.7,321.7 580.9,322.0 580.4,322.0 C579.8,322.0 579.1,321.7 578.7,321.3 C578.3,320.9 578.0,320.2 578.0,319.6Z M585.7,322.0 C585.7,321.0 586.2,319.7 586.9,319.0 C587.6,318.3 588.9,317.8 589.8,317.8 C590.8,317.8 592.1,318.3 592.8,319.0 C593.5,319.7 594.0,321.0 594.0,322.0 C594.0,323.0 593.5,324.2 592.8,324.9 C592.1,325.6 590.8,326.1 589.8,326.1 C588.9,326.1 587.6,325.6 586.9,324.9 C586.2,324.2 585.7,323.0 585.7,322.0Z M587.5,322.0 C587.5,321.4 587.8,320.7 588.2,320.3 C588.6,319.9 589.3,319.6 589.8,319.6 C590.4,319.6 591.1,319.9 591.5,320.3 C591.9,320.7 592.2,321.4 592.2,322.0 C592.2,322.5 591.9,323.2 591.5,323.6 C591.1,324.0 590.4,324.3 589.8,324.3 C589.3,324.3 588.6,324.0 588.2,323.6 C587.8,323.2 587.5,322.5 587.5,322.0Z M578.0,270.0 C578.4,270.2 579.5,271.2 580.4,271.2 C581.3,271.2 582.9,270.2 583.3,270.0 M610.0,272.0 C610.4,271.9 612.0,272.6 612.4,271.3 C612.7,269.9 611.6,265.7 611.9,264.2 C612.2,262.6 613.1,262.2 613.9,261.8 C614.8,261.4 616.6,261.8 617.1,261.8 M679.3,279.1 C679.8,279.5 681.8,280.3 682.4,281.5 C683.1,282.7 683.0,281.5 683.2,286.2 C683.5,290.9 684.0,302.5 684.0,309.8 C684.0,317.1 683.4,326.6 683.2,330.0 M614.7,263.4 C614.9,267.7 615.2,280.3 615.5,289.4 C615.8,298.4 615.9,312.2 616.3,317.7 C616.7,323.2 614.2,320.6 617.9,322.4 C621.5,324.3 634.9,327.7 638.3,328.7 M628.9,259.8 C629.2,259.2 628.6,258.5 631.3,259.1 C633.9,259.7 642.3,262.4 644.6,263.4 C647.0,264.4 645.7,264.8 645.4,265.3 C645.2,265.7 645.7,266.6 643.1,266.1 C640.4,265.6 632.0,263.3 629.7,262.3 C627.3,261.2 628.6,260.3 628.9,259.8Z M650.3,263.4 C650.3,262.2 650.7,260.6 651.3,259.8 C651.8,258.9 652.9,258.3 653.8,258.3 C654.6,258.3 655.7,258.9 656.3,259.8 C656.9,260.6 657.2,262.2 657.2,263.4 C657.2,264.6 656.9,266.2 656.3,267.0 C655.7,267.8 654.6,268.4 653.8,268.4 C652.9,268.4 651.8,267.8 651.3,267.0 C650.7,266.2 650.3,264.6 650.3,263.4Z M719.0,261.8 C714.9,261.8 698.8,261.3 694.3,261.8 C689.7,262.3 692.2,260.4 691.9,265.0 C691.6,269.6 692.7,281.4 692.7,289.4 C692.7,297.4 692.2,306.7 691.9,313.0 C691.6,319.3 691.2,324.8 691.1,327.2 M695.8,263.4 C695.7,267.7 695.0,281.1 695.0,289.4 C695.0,297.6 696.1,307.2 695.8,313.0 C695.6,318.8 694.1,321.4 693.5,324.0 C692.8,326.6 692.2,328.0 691.9,328.7 M699.0,271.3 C699.1,270.0 699.6,268.3 700.6,267.6 C701.5,266.9 702.5,266.6 704.5,267.0 C706.5,267.4 710.5,269.1 712.4,270.2 C714.2,271.3 715.0,272.3 715.5,273.6 C716.0,275.0 715.7,277.2 715.2,278.3 C714.7,279.4 714.1,280.4 712.4,280.2 C710.6,280.0 706.6,277.9 704.5,277.1 C702.4,276.2 700.7,276.2 699.8,275.2 C698.8,274.2 698.8,272.5 699.0,271.3Z M712.4,270.2 C712.0,270.6 710.4,271.6 710.0,272.8 C709.6,274.1 709.6,276.3 710.0,277.6 C710.4,278.8 712.0,279.8 712.4,280.2 M682.4,309.8 C682.7,309.4 683.0,307.9 684.0,307.5 C685.1,307.1 687.8,307.1 688.7,307.5 C689.7,307.9 689.4,307.6 689.5,309.8 C689.7,312.1 689.8,318.5 689.5,320.9 C689.3,323.2 688.9,323.8 688.0,324.0 C687.0,324.3 684.7,322.7 684.0,322.4 M686.7,315.4 C686.7,313.8 687.0,311.7 687.2,310.6 C687.4,309.6 687.7,309.1 688.0,309.1 C688.2,309.1 688.5,309.6 688.7,310.6 C689.0,311.7 689.2,313.8 689.2,315.4 C689.2,316.9 689.0,319.0 688.7,320.1 C688.5,321.1 688.2,321.7 688.0,321.7 C687.7,321.7 687.4,321.1 687.2,320.1 C687.0,319.0 686.7,316.9 686.7,315.4Z M547.8,315.0 C547.8,315.8 547.5,318.1 547.8,319.7 C548.1,321.3 549.2,323.7 549.5,324.4 M587.3,349.3 C588.7,349.1 593.0,349.3 595.6,348.1 C598.1,346.9 601.1,344.1 602.7,342.2 C604.2,340.2 605.0,337.6 605.0,336.3 C605.0,334.9 603.1,334.3 602.7,333.9 M586.1,352.2 C587.7,352.0 592.4,352.3 595.6,351.0 C598.7,349.7 603.0,345.8 605.0,344.5 C607.1,343.2 607.5,343.5 608.0,343.3 M595.6,315.0 C596.8,315.6 600.3,317.7 602.7,318.5 C605.1,319.4 608.8,320.0 610.0,320.3 M608.6,324.4 C608.5,325.4 607.8,329.0 608.0,330.4 C608.2,331.7 609.7,332.3 610.0,332.7 M605.0,336.3 C605.4,337.2 606.6,340.8 607.4,342.2 C608.2,343.5 609.6,344.1 610.0,344.5 M560.2,354.0 C561.5,354.4 566.9,355.0 568.4,356.3 C569.9,357.7 568.4,360.5 569.0,362.2 C569.6,364.0 570.3,365.8 572.0,367.0 C573.6,368.1 575.9,368.3 579.1,369.3 C582.2,370.3 588.1,372.5 590.9,372.9 C593.6,373.3 593.2,372.9 595.6,371.7 C597.9,370.5 602.6,367.0 605.0,365.8 C607.4,364.6 609.2,364.8 610.0,364.6 M556.0,330.2 C556.2,329.4 556.9,328.7 557.6,327.9 C558.3,327.1 559.2,326.0 560.0,325.5 C560.7,325.0 561.5,324.6 561.9,324.7 C562.4,324.9 562.8,325.6 562.7,326.3 C562.6,327.0 561.5,327.9 561.1,328.7 C560.7,329.4 560.7,330.3 560.4,331.0 C560.0,331.7 559.4,332.7 558.8,333.0 C558.2,333.3 557.3,333.5 556.8,333.0 C556.4,332.5 555.9,331.1 556.0,330.2Z M567.8,336.5 C567.5,335.9 567.3,334.4 567.4,333.4 C567.6,332.3 568.3,331.2 568.6,330.2 C569.0,329.3 569.0,327.7 569.4,327.5 C569.9,327.2 570.9,328.1 571.4,328.7 C571.9,329.2 572.4,330.0 572.6,330.6 C572.7,331.3 572.6,332.0 572.2,332.6 C571.8,333.2 570.7,333.5 570.2,334.2 C569.7,334.9 569.8,336.5 569.4,336.9 C569.0,337.3 568.2,337.1 567.8,336.5Z M577.7,339.7 C577.3,339.0 577.5,337.3 577.7,336.1 C577.9,335.0 578.5,333.6 578.9,332.6 C579.2,331.6 579.2,330.4 579.6,330.2 C580.1,330.0 581.0,330.9 581.6,331.4 C582.2,331.9 583.1,332.7 583.2,333.4 C583.3,334.0 582.9,334.8 582.4,335.4 C581.9,335.9 580.9,336.1 580.4,336.9 C580.0,337.7 580.1,339.6 579.6,340.1 C579.2,340.5 578.0,340.3 577.7,339.7Z M611.0,315.0 C611.2,316.0 611.0,319.9 611.8,321.3 C612.6,322.7 615.1,323.3 615.7,323.7 M678.7,341.8 C679.3,341.9 681.2,343.1 681.9,342.6 C682.5,342.0 682.7,343.2 682.7,338.6 C682.7,334.0 682.0,318.9 681.9,315.0 M678.7,344.1 C679.2,344.7 680.9,345.6 681.6,347.3 C682.2,349.0 682.4,348.2 682.7,354.4 C683.0,360.5 683.6,378.0 683.5,384.3 C683.3,390.6 682.2,390.9 681.9,392.2 M609.4,324.4 C609.3,325.2 608.5,325.5 608.7,329.2 C608.8,332.8 609.7,340.5 610.2,346.5 C610.8,352.5 611.2,361.6 611.8,365.4 C612.5,369.2 613.8,368.7 614.2,369.3 M615.7,333.9 L618.1,333.1 M659.8,346.5 C660.3,347.0 662.2,344.4 662.7,349.6 C663.2,354.9 663.3,373.0 663.0,378.0 C662.7,383.0 661.0,379.3 660.6,379.6 M617.3,365.4 C617.0,364.9 615.7,367.5 615.4,362.2 C615.2,357.0 615.7,338.6 615.7,333.9 M682.7,315.0 C682.8,321.6 683.1,342.8 683.5,354.4 C683.9,365.9 684.6,377.5 685.0,384.3 C685.4,391.1 685.7,393.2 685.8,395.0 M693.7,315.0 C693.4,316.6 692.5,321.8 692.1,324.4 C691.7,327.1 691.2,329.0 691.3,330.7 C691.5,332.5 692.7,334.0 692.9,334.7 M600.0,332.3 C600.5,332.6 602.5,332.8 603.1,333.9 C603.8,334.9 603.4,337.0 603.9,338.6 C604.5,340.2 607.0,341.8 606.3,343.3 C605.6,344.9 601.0,347.3 600.0,348.1 M600.0,371.7 C601.0,370.8 604.5,367.2 606.3,366.2 C608.1,365.1 610.2,365.5 611.0,365.4 M600.0,384.3 C601.6,382.7 607.1,377.3 609.4,374.8 C611.8,372.3 613.4,370.2 614.2,369.3 M565.7,355.0 C566.3,355.3 568.2,355.3 568.9,356.6 C569.6,357.9 569.2,361.2 569.7,362.9 C570.2,364.6 570.3,365.6 572.0,366.8 C573.8,368.0 576.0,368.6 579.9,370.0 C583.9,371.3 592.3,374.6 595.7,374.7 C599.1,374.8 598.8,372.1 600.4,370.7 C602.0,369.4 603.5,367.7 605.1,366.8 C606.7,365.9 609.1,365.5 609.8,365.2 M579.9,370.0 C580.1,370.9 580.1,374.0 580.7,375.5 C581.4,376.9 581.9,377.6 583.9,378.6 C585.8,379.7 590.6,381.5 592.5,381.8 C594.5,382.0 595.0,381.4 595.7,380.2 C596.3,379.0 596.3,375.6 596.5,374.7 M582.3,373.1 C582.4,372.6 583.3,371.5 583.9,371.5 C584.4,371.5 585.5,372.6 585.4,373.1 C585.4,373.6 583.9,374.7 583.4,374.7 C582.9,374.7 582.2,373.6 582.3,373.1Z M609.8,365.2 C610.4,365.9 613.3,367.2 613.0,369.2 C612.7,371.1 610.1,374.6 608.3,377.0 C606.4,379.5 603.8,382.7 602.0,384.1 C600.1,385.6 598.0,385.4 597.2,385.7 M610.6,355.0 C610.6,356.0 610.4,359.5 610.6,361.3 C610.9,363.1 611.5,364.8 612.2,366.0 C612.9,367.2 614.2,368.0 614.6,368.4 M615.4,355.0 C615.4,356.2 615.4,360.5 615.8,362.1 C616.2,363.7 617.4,364.1 617.7,364.4 M660.2,379.4 C660.7,379.1 662.5,381.9 663.1,377.8 C663.6,373.8 663.3,358.8 663.4,355.0 M616.1,388.9 C617.2,387.9 620.3,384.8 622.4,383.3 C624.5,381.9 626.6,380.9 628.7,380.2 C630.8,379.5 634.0,379.5 635.0,379.4 M640.0,377.5 C646.3,379.6 670.4,387.4 677.8,390.1 C685.1,392.9 681.4,391.8 684.1,394.1 C686.7,396.3 689.3,399.4 693.5,403.5 C697.7,407.6 706.6,416.2 709.2,418.8 M681.7,350.0 C682.0,352.6 682.7,360.1 683.3,365.7 C683.8,371.4 684.8,379.9 684.8,383.8 C684.8,387.8 683.4,387.8 683.3,389.3 C683.1,390.9 683.9,392.6 684.1,393.3 M718.7,395.6 C718.4,396.4 717.1,398.8 717.1,400.3 C717.1,401.9 718.4,404.3 718.7,405.1 M688.8,387.0 C688.6,387.9 687.7,391.0 688.0,392.5 C688.2,393.9 690.0,395.1 690.3,395.6"/>
<path fill="none" stroke="#000" stroke-width="1.0" stroke-linecap="round" stroke-linejoin="round" d="M474.4,150.9 L470.9,154.8 M479.2,175.6 L482.3,172.4 M513.6,192.2 L515.7,195.4 M612.0,148.9 L650.0,157.8 M613.7,146.5 L650.0,152.4 M599.6,145.1 L612.6,148.7 M601.3,143.2 L613.7,146.3 M549.4,172.6 L584.1,165.1 L588.8,165.5 M551.8,174.5 L577.0,168.6 L587.2,166.3 M547.1,175.7 L551.0,177.3 L571.5,172.2 L577.0,168.6 M551.0,179.6 L569.9,174.9 L571.5,172.2 M589.2,163.9 L589.2,185.0 M547.1,178.1 L547.5,185.0 M550.6,180.0 L551.0,185.0 M554.2,180.4 L554.2,185.0 M566.0,178.1 L566.4,185.0 M640.0,150.7 L713.2,163.7 M640.0,155.4 L697.9,166.6 L710.9,169.0 M715.6,167.8 L718.9,170.7 M640.0,213.9 L653.0,216.9 L653.0,219.3 M640.0,217.5 L718.9,234.4 M657.7,216.7 L694.3,224.9 M623.7,186.5 L637.3,189.5 M626.1,197.8 L637.9,199.5 M590.7,194.2 L606.6,196.9 M589.5,204.3 L606.6,206.4 M570.0,210.2 L585.4,206.6 L587.7,209.6 L605.4,209.6 L607.8,210.7 M572.4,217.2 L581.8,216.1 L585.4,217.2 M583.0,219.6 L598.3,222.0 L611.3,220.8 M572.4,220.8 L609.0,225.5 L642.0,216.7 M612.5,218.4 L627.9,213.1 M570.0,226.7 L611.3,230.0 M540.7,203.7 L542.5,213.7 M543.3,202.5 L546.7,211.9 M550.8,180.6 L566.1,178.3 L566.7,192.4 M550.8,180.6 L552.0,199.5 M553.7,181.2 L554.3,200.7 L552.0,201.9 M564.4,178.9 L565.0,193.6 M550.8,206.0 L568.5,201.3 M527.2,219.6 L580.3,206.6 L581.5,209.0 L575.6,211.3 L575.6,217.2 L572.0,218.4 M529.5,222.0 L556.7,220.8 L559.1,219.6 L566.1,218.4 M569.7,195.4 L564.4,196.6 L563.8,197.4 L564.4,198.3 L569.7,200.9 M532.7,195.9 L532.7,217.2 L535.0,218.9 M447.9,255.0 L453.4,255.3 L453.6,266.5 L448.3,266.1Z M453.4,255.3 L457.2,255.7 M453.6,266.5 L457.6,266.9 M473.4,226.2 L489.9,231.4 M470.0,231.7 L485.1,236.5 M465.8,236.9 L481.7,241.3 M462.7,243.8 L478.9,247.5 M460.3,249.6 L477.2,254.5 L483.0,256.2 M459.8,256.2 L476.4,260.7 L482.6,261.6 M460.2,262.0 L476.4,266.9 L481.7,266.5 M461.1,268.6 L476.4,273.6 M462.7,275.2 L478.0,279.3 L483.8,277.7 M465.6,281.0 L480.5,284.7 L486.3,282.6 M469.8,285.5 L483.0,288.4 M486.3,290.4 L490.9,285.4 M490.0,293.2 L494.1,288.2 M494.5,295.0 L497.2,290.4 M499.1,295.9 L500.9,292.7 M503.6,295.9 L504.5,293.8 M489.9,231.4 L494.8,236.5 M494.8,228.6 L498.2,232.7 M485.1,236.5 L491.3,240.0 M481.7,241.3 L488.2,244.4 M478.9,247.5 L485.8,250.3 M570.0,230.1 L554.4,232.4 L555.0,244.3 L570.0,250.2 M539.1,234.8 L556.8,227.7 L570.0,221.8 M546.1,226.5 L556.8,225.4 L560.3,221.2 L570.0,220.6 M555.6,245.4 L555.6,260.8 L570.0,262.0 M555.6,276.2 L561.5,278.6 L568.6,281.5 M568.0,298.1 L557.4,305.7 M557.9,317.0 L570.0,321.7 M560.3,322.9 L570.0,325.0 M569.8,239.8 L574.5,241.0 L573.9,248.7 L569.8,247.5Z M577.4,242.2 L582.8,243.3 L582.2,250.4 L577.4,249.3Z M585.9,238.0 L586.3,275.0 M603.4,243.9 L603.4,275.0 M594.6,269.3 L588.1,267.6 L588.7,275.0 M556.2,246.3 L573.3,251.6 L572.7,262.8 L556.2,260.5Z M555.0,243.3 L556.2,246.3 M611.7,264.6 L612.9,262.2 L616.4,261.7 L645.0,269.9 M557.4,225.0 L557.4,220.9 L559.7,219.1 L568.0,220.3 L566.8,223.3 M573.3,220.9 L572.7,217.4 L578.6,216.2 L585.7,218.5 M578.6,220.3 L583.3,219.7 L590.4,222.1 L589.3,224.4 M599.9,215.0 L601.1,222.1 L610.5,220.9 L609.3,215.0 M610.5,220.9 L608.1,224.4 M612.9,226.8 L642.4,216.8 M642.4,215.0 L643.0,217.4 L645.0,216.8 M640.0,217.6 L713.2,231.5 L718.9,229.2 M656.5,217.4 L694.3,225.0 M640.0,269.3 L663.6,275.0 M603.4,270.0 L604.0,317.2 M613.7,271.2 L614.3,314.3 M615.2,271.2 L615.8,320.8 M612.3,314.9 L612.9,320.8 L616.4,322.0 M610.5,330.0 L609.3,324.3 L611.7,322.6 L645.0,331.4 M588.7,270.0 L589.3,284.2 L598.7,287.1 L600.5,285.4 L601.7,270.0 M588.7,290.1 L598.7,293.0 L601.1,295.4 L600.5,309.0 L598.1,310.2 L588.7,306.6Z M574.5,276.5 L577.4,276.5 L577.4,285.4 L574.5,285.4Z M574.5,294.8 L578.0,295.4 L577.4,304.8 L573.9,304.3Z M558.5,319.6 L590.4,327.9 M558.0,322.0 L584.5,329.1 M559.7,324.3 L562.1,324.9 L560.9,329.1 M617.1,261.8 L679.3,279.1 M610.0,313.0 L613.1,313.0 L613.1,320.9 L610.0,323.2 M704.5,267.3 L704.5,276.8 M706.9,268.1 L706.9,277.9 M709.2,268.9 L709.2,278.8 M719.0,289.4 L697.4,283.9 L697.4,319.3 L719.0,325.6 M684.0,327.2 L691.9,328.7 M559.0,319.7 L602.7,333.9 M558.0,321.7 L601.5,335.9 M559.0,319.7 L555.4,324.4 L551.9,329.8 L551.3,335.1 L587.3,349.3 M551.9,338.6 L586.1,352.2 M566.1,325.0 L561.3,336.8 M576.7,328.6 L572.0,340.4 M589.1,332.7 L584.4,344.5 M597.4,335.7 L592.0,346.3 M579.1,370.5 L581.4,375.0 M581.4,371.7 L586.1,373.5 M589.1,344.0 L589.9,340.5 L590.7,336.9 L591.5,335.4 L593.4,336.5 L595.4,336.9 L594.2,340.5 L592.2,344.8Z M615.7,323.7 L678.7,341.8 M615.7,321.3 L680.3,340.2 M609.4,324.4 L678.7,344.1 M614.2,369.3 L681.9,392.2 M610.2,328.4 L612.6,329.2 L612.6,340.2 L611.0,341.0 L610.2,328.4 M618.1,333.1 L659.8,346.5 M660.6,379.6 L617.3,365.4 M688.2,385.9 L686.6,395.0 M692.9,334.7 L716.5,341.8 M692.9,326.8 L720.0,333.9 M694.5,328.7 L720.0,335.8 M697.6,318.1 L720.0,324.4 M685.0,385.9 L694.5,387.4 L720.0,393.7 M614.6,368.4 L670.0,388.1 M617.7,364.4 L660.2,379.4 M640.0,372.8 L662.0,379.6 L663.3,378.3 L662.8,350.0 M684.8,383.8 L718.7,395.6 M690.3,395.6 L718.7,405.1 M696.6,398.0 L717.1,418.8"/>
<path fill="none" stroke="#000" stroke-width="1.2" stroke-linecap="round" stroke-linejoin="round" d="M706.2,179.7 C706.7,179.4 707.9,177.8 709.2,177.4 C710.5,177.0 712.5,177.1 713.9,177.4 C715.3,177.6 716.6,178.1 717.4,178.9 C718.3,179.6 718.7,180.5 718.9,181.8 C719.1,183.1 718.9,185.4 718.6,186.5 C718.4,187.7 718.1,188.3 717.4,188.9 C716.8,189.5 715.0,190.1 714.5,190.4"/>
<path fill="none" stroke="#000" stroke-width="2.8" stroke-linecap="round" stroke-linejoin="round" d="M458.4,207.7 C457.6,206.3 455.3,202.2 453.7,199.4 C452.1,196.6 450.1,193.6 449.0,190.8 C447.9,188.1 447.1,185.5 446.9,182.9 C446.7,180.3 446.9,177.8 447.8,175.3 C448.8,172.8 450.7,170.4 452.6,167.8 C454.6,165.2 457.4,162.8 459.5,159.8 C461.6,156.8 463.0,152.9 465.2,149.6 C467.4,146.3 470.7,142.6 472.8,140.0 C474.9,137.4 476.2,136.0 477.8,134.0 C479.4,132.0 480.9,129.6 482.5,127.8 C484.1,126.0 485.1,125.0 487.2,123.3 C489.3,121.6 492.0,119.4 495.1,117.8 C498.2,116.2 502.2,115.0 506.1,113.9 C510.0,112.9 514.0,112.2 518.7,111.5 C523.4,110.8 530.3,110.3 534.5,110.0 C538.7,109.7 541.3,109.5 543.9,109.6 C546.5,109.7 548.1,110.0 550.2,110.7 C552.3,111.4 554.3,112.4 556.5,113.9 C558.7,115.5 561.5,117.8 563.6,120.0 C565.7,122.2 567.8,124.2 569.1,126.8 C570.4,129.4 571.3,132.6 571.5,135.7 C571.7,138.8 570.9,142.7 570.2,145.2 C569.6,147.7 568.0,149.8 567.6,150.7 M568.9,151.0 C570.3,151.3 574.3,151.9 577.7,152.4 C581.2,153.0 587.6,153.9 589.5,154.2 M617.9,165.4 C618.9,165.5 622.2,165.6 623.8,166.0 C625.4,166.4 625.9,167.6 627.3,167.8 C628.7,168.0 630.3,166.9 632.0,167.2 C633.8,167.5 636.2,169.3 637.9,169.6 C639.7,169.9 640.7,168.7 642.7,169.0 C644.7,169.3 648.8,170.9 650.0,171.3 M617.9,165.4 C618.1,166.0 618.7,167.2 619.1,169.0 C619.4,170.7 619.6,174.3 620.2,176.1 C620.8,177.8 621.6,178.8 622.6,179.6 C623.6,180.4 624.4,180.8 626.1,180.8 C627.9,180.8 630.5,179.7 633.2,179.6 C636.0,179.5 639.9,179.6 642.7,180.2 C645.5,180.8 648.8,182.7 650.0,183.1 M640.0,169.0 C640.8,169.3 643.0,170.3 644.7,170.7 C646.5,171.2 648.9,171.8 650.6,171.9 C652.4,172.0 653.8,170.9 655.4,171.3 C656.9,171.7 658.3,173.6 660.1,174.3 C661.8,175.0 664.4,175.5 666.0,175.5 C667.6,175.5 668.1,174.1 669.5,174.3 C670.9,174.5 672.5,176.0 674.3,176.7 C676.0,177.3 678.4,178.3 680.2,178.4 C681.9,178.5 683.3,177.0 684.9,177.2 C686.5,177.4 687.8,178.9 689.6,179.6 C691.4,180.3 693.5,181.0 695.5,181.4 C697.5,181.8 700.4,181.9 701.4,182.0 M700.9,181.5 C701.2,181.8 702.5,182.2 702.7,183.0 C702.9,183.8 702.0,185.4 702.1,186.5 C702.2,187.7 702.6,189.2 703.3,190.1 C704.0,191.0 705.1,191.6 706.2,191.9 C707.3,192.1 708.8,191.6 709.8,191.6 C710.8,191.6 711.7,191.8 712.1,191.9 M712.1,191.9 L715.1,200.0 M710.9,193.0 C711.7,194.7 714.2,199.9 715.6,203.1 C716.9,206.2 718.3,210.5 718.9,211.9 M640.0,180.0 C641.0,180.3 643.9,180.7 645.9,181.8 C647.9,182.9 650.4,184.6 651.8,186.5 C653.2,188.5 654.2,191.3 654.2,193.6 C654.2,196.0 653.0,198.7 651.8,200.7 C650.6,202.7 649.1,204.0 647.1,205.4 C645.1,206.9 641.2,208.9 640.0,209.6 M619.0,170.0 C619.2,170.8 619.5,173.2 620.2,174.7 C620.9,176.2 621.7,178.0 623.1,178.9 C624.6,179.7 626.9,179.9 629.1,180.0 C631.2,180.1 633.8,179.4 636.1,179.4 C638.5,179.5 641.1,179.8 643.2,180.6 C645.4,181.4 647.5,182.6 649.1,184.2 C650.8,185.7 652.5,187.9 653.3,190.1 C654.1,192.2 654.3,194.8 653.9,197.2 C653.4,199.5 652.1,202.3 650.3,204.3 C648.5,206.2 645.5,207.8 643.2,209.0 C641.0,210.2 637.8,210.9 636.7,211.3 M457.8,206.8 C455.8,207.3 449.9,208.7 445.4,209.8 C441.0,210.8 434.8,212.3 431.3,213.3 C427.7,214.3 425.9,214.7 424.2,215.7 C422.4,216.7 421.5,217.7 420.6,219.2 C419.8,220.7 419.5,221.7 419.2,224.5 C418.9,227.4 418.7,231.3 418.9,236.3 C419.0,241.4 419.8,251.9 420.0,255.0 M419.4,250.0 C419.5,252.0 419.7,257.9 420.0,261.8 C420.3,265.7 420.8,270.1 421.2,273.6 C421.6,277.2 421.7,280.5 422.4,283.1 C423.1,285.6 423.5,287.1 425.4,289.0 C427.2,290.8 430.7,293.1 433.6,294.3 C436.6,295.5 439.1,295.9 443.1,296.1 C447.0,296.3 452.9,295.9 457.2,295.5 C461.6,295.1 465.6,294.3 469.1,293.7 C472.5,293.1 475.5,291.9 477.9,291.9 C480.3,291.9 481.2,292.9 483.2,293.7 C485.3,294.5 487.5,296.0 490.3,296.7 C493.1,297.3 498.4,297.6 500.0,297.8 M480.0,292.8 C481.2,293.2 484.5,294.9 487.1,295.7 C489.6,296.5 492.6,297.2 495.4,297.5 C498.1,297.8 501.1,297.9 503.6,297.5 C506.2,297.1 508.7,295.9 510.7,295.1 C512.7,294.3 514.1,292.8 515.4,292.8 C516.8,292.8 517.4,294.7 519.0,295.1 C520.5,295.5 523.9,295.1 524.9,295.1 M524.9,295.1 C524.7,296.0 524.1,298.1 523.9,300.4 C523.7,302.7 523.2,306.2 523.7,309.0 C524.2,311.8 524.9,314.8 526.8,317.2 C528.6,319.6 532.0,322.0 534.8,323.7 C537.6,325.4 540.7,326.3 543.6,327.3 C546.5,328.3 550.8,329.3 552.2,329.7 M551.9,329.8 C551.5,330.5 549.9,332.2 549.5,333.9 C549.1,335.6 549.1,337.4 549.5,339.8 C549.9,342.2 550.7,346.0 551.9,348.1 C553.1,350.1 555.2,351.2 556.6,352.2 C558.0,353.2 559.6,353.7 560.2,354.0 M560.2,354.0 L559.6,359.9 M559.6,359.9 C559.8,360.6 559.8,361.7 560.8,364.0 C561.8,366.3 563.1,371.0 565.5,373.5 C567.9,376.0 571.0,377.1 575.2,379.2 C579.4,381.3 585.9,383.7 590.9,385.9 C595.9,388.1 601.9,391.0 605.1,392.2 C608.3,393.4 608.4,392.8 610.0,392.9 C611.6,393.0 613.1,393.4 614.7,392.8 C616.3,392.2 617.6,390.8 619.4,389.2 C621.2,387.6 623.6,384.7 625.4,383.3 C627.2,381.9 628.5,381.4 630.1,380.9 C631.7,380.4 632.2,379.8 634.8,380.4 C637.3,381.0 641.7,383.0 645.4,384.5 C649.1,386.0 653.2,387.6 657.2,389.2 C661.2,390.8 665.6,392.3 669.1,393.9 C672.6,395.5 675.5,396.9 678.5,398.7 C681.5,400.5 684.0,402.4 686.8,404.6 C689.5,406.8 692.5,409.3 695.0,411.7 C697.5,414.1 700.9,417.6 702.1,418.8"/>
<path fill="none" stroke="#000" stroke-width="2.8" stroke-linecap="round" stroke-linejoin="round" d="M589.5,154.2 L591.7,153.0 L592.5,148.9 L595.4,145.9 L598.4,144.8 L599.0,142.4 L604.9,140.6 L612.0,139.4 L617.9,140.9 L623.8,141.8 L628.5,141.2 L636.8,142.4 L650.0,144.8 M640.0,142.4 L657.7,145.1 L679.0,147.7 L693.1,149.5 L706.1,151.5 L718.9,155.7 M640.0,210.7 L655.4,214.9 L662.4,210.7 L668.3,211.3 L718.9,222.6 M636.7,211.3 L640.0,210.7 L655.4,214.9"/>
<path fill="#000" stroke="none" stroke-linecap="round" stroke-linejoin="round" d="M663.0,150.1 L665.4,149.5 L667.2,150.3 L665.0,151.3Z M678.4,150.3 L681.3,149.5 L684.3,150.3 L681.3,151.8Z M706.7,156.2 L709.7,155.4 L711.5,156.6 L708.5,157.8Z M593.4,337.7 L595.4,337.3 L593.4,343.6 L592.2,342.8Z M685.8,315.0 L687.4,322.9 L689.0,322.9 L689.8,315.0Z"/>
</g>
</g>
</svg>
</body>
</html>
